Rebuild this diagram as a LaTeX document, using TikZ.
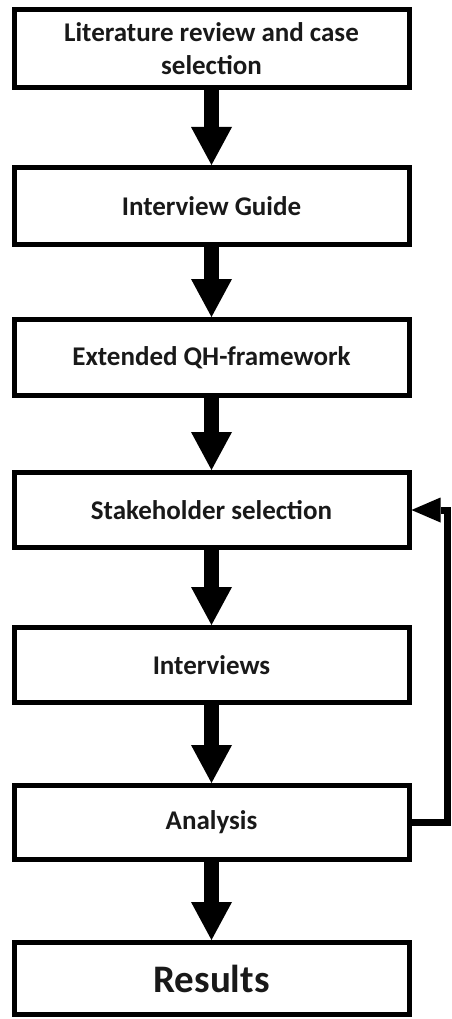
\documentclass[tikz,border=0pt]{standalone}
\usepackage{fontspec}
\setmainfont{Carlito}
\usetikzlibrary{arrows.meta}
\begin{document}
\begin{tikzpicture}[x=1pt, y=-1pt,
  stepbox/.style={draw=black, line width=5pt, fill=white, minimum width=395pt,
    inner sep=0pt, align=center, text=black!90,
    font=\fontsize{27}{33}\selectfont\bfseries},
  flow/.style={line width=15pt,
    -{Triangle[width=41pt, length=38pt, line width=0pt]}},
  back/.style={line width=7pt, line join=miter,
    -{Triangle[width=25pt, length=29pt, line width=0pt]}}]
\useasboundingbox (0,0) rectangle (451,1019);

% process steps
\node[stepbox, minimum height=78pt] (lit) at (211.5,48.5)
  {Literature review and case\\selection};
\node[stepbox, minimum height=77pt] (guide) at (211.5,206) {Interview Guide};
\node[stepbox, minimum height=76pt] (qh) at (211.5,357.5) {Extended QH-framework};
\node[stepbox, minimum height=75pt] (stk) at (211.5,510) {Stakeholder selection};
\node[stepbox, minimum height=75pt] (int) at (211.5,665) {Interviews};
\node[stepbox, minimum height=74pt] (ana) at (211.5,822.5) {Analysis};
\node[stepbox, minimum height=72pt,
  font=\fontsize{39}{45}\selectfont\bfseries] (res) at (211.5,978.5) {Results};

% forward flow
\draw[flow] (lit.south) -- (guide.north);
\draw[flow] (guide.south) -- (qh.north);
\draw[flow] (qh.south) -- (stk.north);
\draw[flow] (stk.south) -- (int.north);
\draw[flow] (int.south) -- (ana.north);
\draw[flow] (ana.south) -- (res.north);

% feedback loop from analysis back to stakeholder selection
\coordinate (loop) at (447,0);
\draw[back] (ana.east) -- (ana.east -| loop) -- (stk.east -| loop) -- (stk.east);
\end{tikzpicture}
\end{document}
